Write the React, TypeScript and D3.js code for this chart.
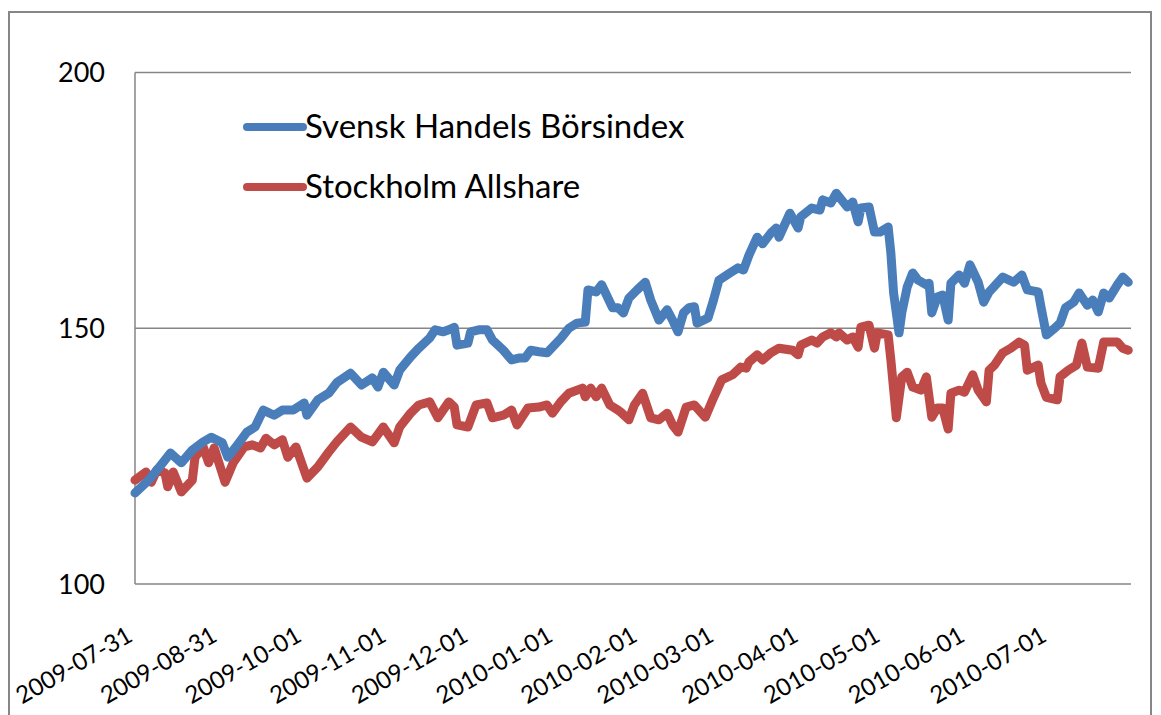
import { useEffect, useRef } from 'react';
import * as d3 from 'd3';

// Svensk Handels Börsindex (blue)
const shbDates = [
  '2009-07-31','2009-08-05','2009-08-09','2009-08-13','2009-08-17','2009-08-21','2009-08-25','2009-08-28',
  '2009-09-01','2009-09-03','2009-09-06','2009-09-10','2009-09-13','2009-09-16','2009-09-20','2009-09-23',
  '2009-09-27','2009-10-01','2009-10-02','2009-10-06','2009-10-10','2009-10-13','2009-10-18','2009-10-22',
  '2009-10-26','2009-10-28','2009-10-30','2009-11-03','2009-11-05','2009-11-09','2009-11-12','2009-11-16',
  '2009-11-18','2009-11-21','2009-11-23','2009-11-25','2009-11-26','2009-11-30','2009-12-01','2009-12-04',
  '2009-12-07','2009-12-09','2009-12-13','2009-12-16','2009-12-19','2009-12-21','2009-12-23','2009-12-26',
  '2009-12-29','2010-01-03','2010-01-06','2010-01-09','2010-01-12','2010-01-13','2010-01-16','2010-01-18',
  '2010-01-22','2010-01-24','2010-01-26','2010-01-28','2010-01-31','2010-02-03','2010-02-05','2010-02-08',
  '2010-02-11','2010-02-13','2010-02-15','2010-02-17','2010-02-19','2010-02-21','2010-02-22','2010-02-26',
  '2010-02-28','2010-03-02','2010-03-06','2010-03-09','2010-03-11','2010-03-13','2010-03-16','2010-03-18',
  '2010-03-21','2010-03-23','2010-03-24','2010-03-28','2010-03-31','2010-04-01','2010-04-05','2010-04-08',
  '2010-04-09','2010-04-12','2010-04-14','2010-04-18','2010-04-20','2010-04-22','2010-04-23','2010-04-26',
  '2010-04-28','2010-04-30','2010-05-03','2010-05-04','2010-05-05','2010-05-07','2010-05-08','2010-05-10',
  '2010-05-12','2010-05-14','2010-05-17','2010-05-18','2010-05-19','2010-05-21','2010-05-23','2010-05-25',
  '2010-05-26','2010-05-29','2010-05-31','2010-06-02','2010-06-05','2010-06-07','2010-06-09','2010-06-14',
  '2010-06-18','2010-06-21','2010-06-23','2010-06-27','2010-06-28','2010-06-30','2010-07-03','2010-07-05',
  '2010-07-07','2010-07-10','2010-07-12','2010-07-15','2010-07-17','2010-07-19','2010-07-21','2010-07-23',
  '2010-07-26','2010-07-28','2010-07-30'
];
const shbValues = [
  117.8,120.3,122.9,125.6,123.7,126.2,127.8,128.7,
  127.6,124.8,126.8,129.7,130.7,134.0,133.0,134.0,
  134.0,135.4,133.0,136.0,137.3,139.4,141.2,138.9,
  140.3,138.5,141.4,138.9,141.8,144.4,146.1,148.1,
  149.7,149.3,149.7,150.2,146.7,147.1,149.3,149.7,
  149.7,147.7,145.7,143.8,144.2,144.2,145.7,145.4,
  145.2,148.0,150.0,151.0,151.2,157.5,157.1,158.5,
  154.0,154.0,153.0,155.9,157.5,159.0,155.5,151.6,
  153.6,151.6,149.3,153.0,154.0,154.2,151.0,152.0,
  155.5,159.4,160.8,161.8,161.4,164.3,167.8,166.5,
  168.6,169.6,167.8,172.5,169.6,171.8,173.5,173.1,
  175.1,174.5,176.4,173.7,174.7,170.8,173.5,173.7,
  168.8,168.8,169.8,164.7,156.9,149.1,153.0,158.1,
  160.8,159.4,158.5,158.8,153.0,156.1,156.5,151.6,
  158.8,160.4,158.8,162.4,159.0,155.1,157.1,160.0,
  159.0,160.4,157.5,157.1,154.2,148.7,150.0,151.0,
  154.0,155.1,156.9,154.5,155.5,153.2,156.9,155.9,
  158.5,160.0,159.0
];

// Stockholm Allshare (red)
const allDates = [
  '2009-07-31','2009-08-04','2009-08-06','2009-08-08','2009-08-11','2009-08-12','2009-08-14','2009-08-17',
  '2009-08-21','2009-08-22','2009-08-25','2009-08-27','2009-08-29','2009-09-02','2009-09-05','2009-09-09',
  '2009-09-12','2009-09-15','2009-09-17','2009-09-20','2009-09-23','2009-09-25','2009-09-28','2009-10-02',
  '2009-10-06','2009-10-10','2009-10-13','2009-10-18','2009-10-22','2009-10-26','2009-10-30','2009-11-03',
  '2009-11-05','2009-11-09','2009-11-12','2009-11-16','2009-11-19','2009-11-23','2009-11-25','2009-11-26',
  '2009-11-30','2009-12-03','2009-12-07','2009-12-09','2009-12-13','2009-12-16','2009-12-18','2009-12-22',
  '2009-12-26','2009-12-29','2009-12-31','2010-01-03','2010-01-06','2010-01-11','2010-01-12','2010-01-14',
  '2010-01-16','2010-01-18','2010-01-21','2010-01-24','2010-01-25','2010-01-28','2010-01-30','2010-02-02',
  '2010-02-05','2010-02-08','2010-02-11','2010-02-13','2010-02-15','2010-02-18','2010-02-21','2010-02-25',
  '2010-02-28','2010-03-03','2010-03-07','2010-03-10','2010-03-12','2010-03-13','2010-03-16','2010-03-18',
  '2010-03-21','2010-03-24','2010-03-29','2010-03-31','2010-04-01','2010-04-05','2010-04-07','2010-04-09',
  '2010-04-12','2010-04-14','2010-04-15','2010-04-18','2010-04-20','2010-04-22','2010-04-23','2010-04-26',
  '2010-04-28','2010-04-29','2010-05-03','2010-05-04','2010-05-06','2010-05-08','2010-05-10','2010-05-12',
  '2010-05-15','2010-05-17','2010-05-19','2010-05-21','2010-05-23','2010-05-25','2010-05-26','2010-05-29',
  '2010-05-31','2010-06-03','2010-06-05','2010-06-08','2010-06-09','2010-06-11','2010-06-14','2010-06-17',
  '2010-06-20','2010-06-22','2010-06-23','2010-06-27','2010-06-28','2010-06-30','2010-07-04','2010-07-05',
  '2010-07-08','2010-07-11','2010-07-13','2010-07-15','2010-07-19','2010-07-21','2010-07-26','2010-07-28',
  '2010-07-30'
];
const allValues = [
  120.3,121.9,119.9,122.3,121.7,119.0,121.9,118.0,
  120.3,124.8,126.8,123.7,126.6,119.9,123.7,126.8,
  127.2,126.6,128.5,127.2,128.2,124.8,126.8,120.7,
  122.9,125.8,127.8,130.7,128.7,127.8,130.7,127.6,
  130.7,133.4,135.0,135.6,132.5,135.6,134.6,131.1,
  130.7,135.0,135.4,132.5,133.0,134.0,131.1,134.4,
  134.6,135.0,133.4,135.6,137.3,138.3,136.6,138.3,
  136.6,138.3,135.0,134.0,133.6,132.1,135.0,137.3,
  132.5,132.1,133.4,131.1,129.7,134.6,135.0,132.6,
  136.4,139.9,140.9,142.4,142.2,143.4,144.8,143.8,
  145.2,146.1,145.7,144.8,146.7,147.7,147.1,148.3,
  149.1,148.3,149.1,147.7,148.3,146.3,150.2,150.6,
  146.1,149.1,148.7,143.8,132.5,140.5,141.4,138.5,
  137.9,140.5,132.6,134.4,134.4,130.3,137.3,137.9,
  137.5,140.9,137.9,135.6,141.8,142.8,145.2,146.1,
  147.3,146.7,141.8,142.8,139.3,136.5,136.0,140.5,
  141.8,142.8,147.1,142.4,142.2,147.3,147.3,146.1,
  145.7
];

const seriesNames = ['Svensk Handels Börsindex', 'Stockholm Allshare'];
const seriesColors = ['#4a7ebb', '#be4b48'];
const yTicks = [100, 150, 200];
const xTickLabels = [
  '2009-07-31','2009-08-31','2009-10-01','2009-11-01','2009-12-01','2010-01-01',
  '2010-02-01','2010-03-01','2010-04-01','2010-05-01','2010-06-01','2010-07-01'
];

export default function App() {
  const svgRef = useRef(null);

  useEffect(() => {
    const svg = d3.select(svgRef.current);
    svg.selectAll('*').remove();

    const parse = d3.utcParse('%Y-%m-%d');
    const left = 135, right = 1131, top = 72.5, bottom = 584;

    const x = d3.scaleUtc()
      .domain([parse('2009-07-31'), parse('2010-07-31')])
      .range([left, right]);
    const y = d3.scaleLinear().domain([100, 200]).range([bottom, top]);

    // outer chart frame
    svg.append('rect')
      .attr('x', 9).attr('y', 12)
      .attr('width', 1142).attr('height', 720)
      .attr('fill', 'white')
      .attr('stroke', '#868686').attr('stroke-width', 2);

    // gridlines
    svg.append('g').selectAll('line').data(yTicks).enter().append('line')
      .attr('x1', left).attr('x2', right)
      .attr('y1', d => y(d)).attr('y2', d => y(d))
      .attr('stroke', '#868686').attr('stroke-width', 1.5);

    // value axis line
    svg.append('line')
      .attr('x1', left).attr('x2', left)
      .attr('y1', top).attr('y2', bottom)
      .attr('stroke', '#868686').attr('stroke-width', 1.5);

    svg.append('g').selectAll('text').data(yTicks).enter().append('text')
      .attr('x', 105).attr('y', d => y(d) + 9.5)
      .attr('text-anchor', 'end')
      .style('font-family', 'Lato')
      .style('font-size', '27px')
      .attr('fill', '#000')
      .text(d => d);

    svg.append('g').selectAll('text').data(xTickLabels).enter().append('text')
      .attr('transform', d => `translate(${x(parse(d)) - 1},640) rotate(-30)`)
      .attr('text-anchor', 'end')
      .style('font-family', 'Lato')
      .style('font-size', '24px')
      .attr('fill', '#000')
      .text(d => d);

    const line = d3.line()
      .x(d => x(d[0]))
      .y(d => y(d[1]));

    const series = [
      shbDates.map((d, i) => [parse(d), shbValues[i]]),
      allDates.map((d, i) => [parse(d), allValues[i]])
    ];

    // red drawn first, blue on top
    [1, 0].forEach(i => {
      svg.append('path')
        .datum(series[i])
        .attr('d', line)
        .attr('fill', 'none')
        .attr('stroke', seriesColors[i])
        .attr('stroke-width', 9)
        .attr('stroke-linejoin', 'round')
        .attr('stroke-linecap', 'round');
    });

    // legend
    const legendY = [127, 187];
    seriesNames.forEach((name, i) => {
      svg.append('line')
        .attr('x1', 247).attr('x2', 303)
        .attr('y1', legendY[i]).attr('y2', legendY[i])
        .attr('stroke', seriesColors[i])
        .attr('stroke-width', 8)
        .attr('stroke-linecap', 'round');
      svg.append('text')
        .attr('x', 305).attr('y', legendY[i] + 11)
        .style('font-family', 'Lato')
        .style('font-size', '33px')
        .attr('fill', '#000')
        .text(name);
    });
  }, []);

  return (
    <div style={{ position: 'absolute', left: 0, top: 0 }}>
      <svg ref={svgRef} width={1161} height={715} style={{ display: 'block', background: '#fff' }} />
    </div>
  );
}
